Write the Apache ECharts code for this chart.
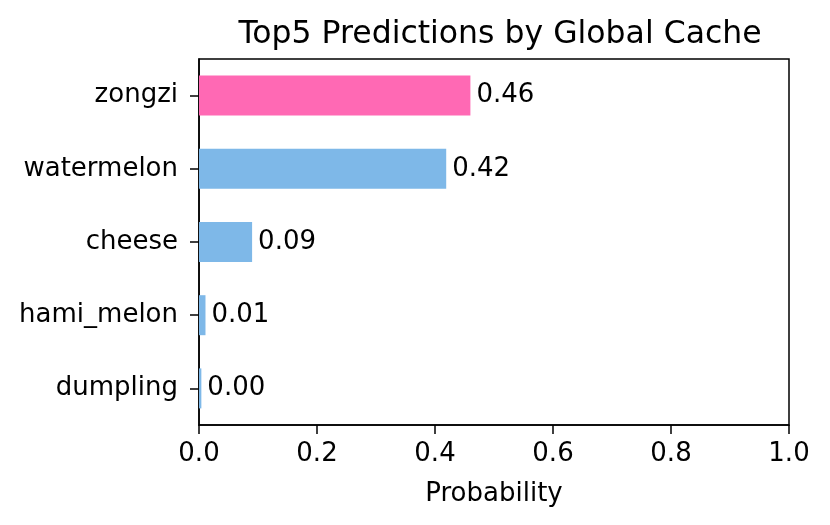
<!DOCTYPE html>
<html><head><meta charset="utf-8">
<script src="https://cdn.jsdelivr.net/npm/echarts@6/dist/echarts.min.js"></script>
<style>html,body{margin:0;padding:0;background:#fff}#c{width:830px;height:525px}</style>
</head><body><div id="c"></div>
<script>
const categories = ['dumpling', 'hami_melon', 'cheese', 'watermelon', 'zongzi'];
const values = [0.004, 0.011, 0.09, 0.419, 0.46];
const highlight = 'zongzi';
const xTicks = [0, 0.2, 0.4, 0.6, 0.8, 1.0];
const titleText = 'Top5 Predictions by Global Cache';
const xName = 'Probability';

const font = 'DejaVu Sans';
const chart = echarts.init(document.getElementById('c'), null, {renderer: 'canvas'});
chart.setOption({
  animation: false,
  title: {text: titleText, left: 495, top: 14, textAlign: 'center',
    textStyle: {fontFamily: font, fontSize: 31.5, fontWeight: 'normal', color: '#000'}},
  grid: {left: 199, right: 41, top: 59, bottom: 100, containLabel: false,
    show: true, borderColor: '#000', borderWidth: 1.5},
  xAxis: {type: 'value', min: xTicks[0], max: xTicks[xTicks.length - 1], interval: 0.2,
    name: xName, nameLocation: 'middle', nameGap: 56,
    nameTextStyle: {fontFamily: font, fontSize: 26, color: '#000'},
    axisLine: {show: true, lineStyle: {color: '#000', width: 1.5}},
    axisTick: {show: true, length: 9, lineStyle: {color: '#000', width: 1.5}},
    splitLine: {show: false},
    axisLabel: {fontFamily: font, fontSize: 26, color: '#000', margin: 16,
      formatter: v => v.toFixed(1)}},
  yAxis: {type: 'category', data: categories,
    axisLine: {show: true, lineStyle: {color: '#000', width: 1.5}},
    axisTick: {show: true, alignWithLabel: true, length: 9, lineStyle: {color: '#000', width: 1.5}},
    axisLabel: {fontFamily: font, fontSize: 26, color: '#000', margin: 21, padding: [4, 0, 0, 0]}},
  series: [{type: 'bar', barWidth: 40,
    data: values.map((v, i) => ({value: v,
      itemStyle: {color: categories[i] === highlight ? '#FF69B4' : '#7EB8E8'}})),
    label: {show: true, position: 'right', distance: 6, fontFamily: font, fontSize: 26, color: '#000',
      padding: [2, 0, 0, 0],
      formatter: p => p.value.toFixed(2)}}]
});
</script></body></html>
